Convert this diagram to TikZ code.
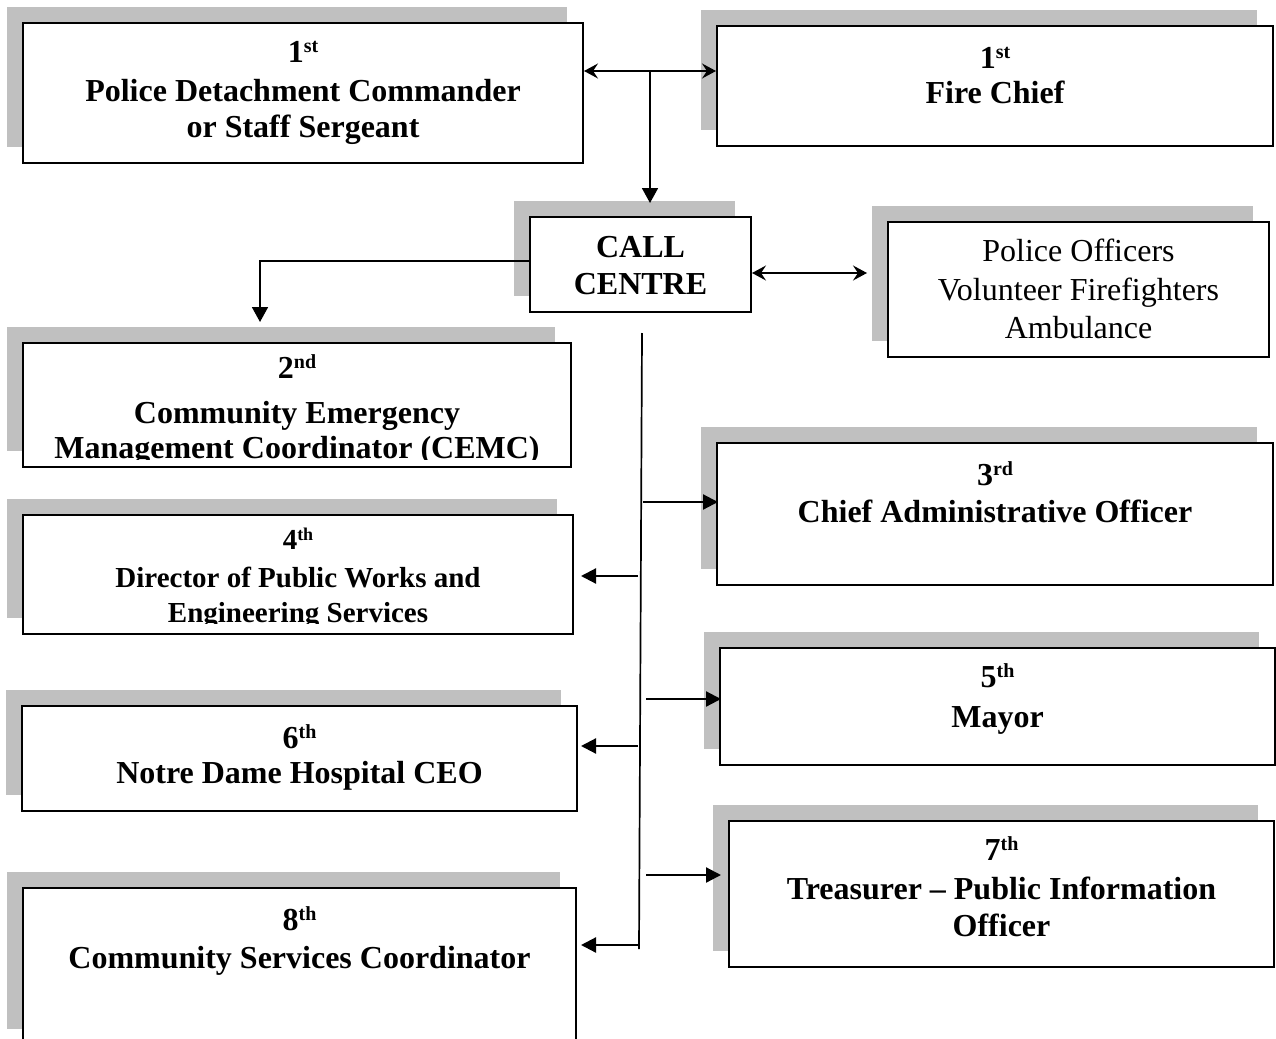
\documentclass[tikz,border=0pt]{standalone}
\usepackage{fontspec}
\setmainfont{Liberation Serif}
\usetikzlibrary{arrows.meta,shadows,calc}
\definecolor{shgray}{HTML}{C0C0C0}
\newcommand\ordsup[1]{\raisebox{10pt}{\fontsize{20}{20}\selectfont #1}}
\newcommand\ordsupS[1]{\raisebox{9pt}{\fontsize{18}{18}\selectfont #1}}
\newcommand\bigbf{\fontsize{32}{37}\selectfont\bfseries}
\newcommand\midbf{\fontsize{29}{33}\selectfont\bfseries}
\newcommand\bigrm{\fontsize{32}{37}\selectfont}
\begin{document}
\begin{tikzpicture}[x=1pt,y=-1pt,
  box/.style={draw, line width=1.8pt, fill=white, inner sep=0pt, outer sep=0pt,
    drop shadow={shadow xshift=-16pt, shadow yshift=16pt, fill=shgray, opacity=1}},
  openbox/.style={box, draw=none},
  lbl/.style={anchor=base, inner sep=0pt, font=\bigbf},
  lblm/.style={anchor=base, inner sep=0pt, font=\midbf},
  lblr/.style={anchor=base, inner sep=0pt, font=\bigrm},
  tri/.style={line width=2.2pt, -{Triangle[length=15pt,width=15pt]}},
  downtri/.style={line width=1.8pt, -{Triangle[length=15pt,width=16pt]}},
  dbl/.style={line width=1.8pt, {Stealth[length=14pt,width=15pt,inset=5pt]}-{Stealth[length=14pt,width=15pt,inset=5pt]}},
  bus/.style={line width=1.7pt},
  edge8/.style={line width=1.8pt}]
\useasboundingbox (0,0) rectangle (1276,1038);

% boxes
\node[box, minimum width=560pt, minimum height=140pt] (b1) at (303,93) {};
\node[box, minimum width=556pt, minimum height=120pt] (bF) at (995,86) {};
\node[box, minimum width=221pt, minimum height=95pt] (cc) at (640.5,264.5) {};
\node[box, minimum width=381pt, minimum height=135pt] (po) at (1078.5,289.5) {};
\node[box, minimum width=548pt, minimum height=124pt] (b2) at (297,405) {};
\node[box, minimum width=556pt, minimum height=142pt] (b3) at (995,514) {};
\node[box, minimum width=550pt, minimum height=119pt] (b4) at (298,574.5) {};
\node[box, minimum width=555pt, minimum height=117pt] (b5) at (997.5,706.5) {};
\node[box, minimum width=555pt, minimum height=105pt] (b6) at (299.5,758.5) {};
\node[box, minimum width=545pt, minimum height=146pt] (b7) at (1001.5,894) {};
\node[openbox, minimum width=553pt, minimum height=157pt] (b8) at (299.5,966.5) {};
\draw[edge8] (b8.south west) -- (b8.north west) -- (b8.north east) -- (b8.south east);

% texts
\node[lbl] (t1a) at (303,63) {1\ordsup{st}};
\node[lbl] (t1b) at (303,102) {Police Detachment Commander};
\node[lbl] (t1c) at (303,138) {or Staff Sergeant};

\node[lbl] (tFa) at (995,69) {1\ordsup{st}};
\node[lbl] (tFb) at (995,103) {Fire Chief};

\node[lbl] (tca) at (640.5,257) {CALL};
\node[lbl] (tcb) at (640.5,294) {CENTRE};

\node[lblr] (tpa) at (1078.5,261) {Police Officers};
\node[lblr] (tpb) at (1078.5,300) {Volunteer Firefighters};
\node[lblr] (tpc) at (1078.5,338) {Ambulance};

\begin{scope}
\clip (23,343) rectangle (571,459);
\node[lbl] (t2a) at (297,378) {2\ordsup{nd}};
\node[lbl] (t2b) at (297,423) {Community Emergency};
\node[lbl] (t2c) at (297,458) {Management Coordinator (CEMC)};
\end{scope}

\begin{scope}
\clip (23,515) rectangle (573,623);
\node[lblm] (t4a) at (298,549) {4\ordsupS{th}};
\node[lblm] (t4b) at (298,587) {Director of Public Works and};
\node[lblm] (t4c) at (298,622) {Engineering Services};
\end{scope}

\node[lbl] (t3a) at (995,485) {3\ordsup{rd}};
\node[lbl] (t3b) at (995,522) {Chief Administrative Officer};

\node[lbl] (t5a) at (997.5,687) {5\ordsup{th}};
\node[lbl] (t5b) at (997.5,727) {Mayor};

\node[lbl] (t6a) at (299.5,748) {6\ordsup{th}};
\node[lbl] (t6b) at (299.5,783) {Notre Dame Hospital CEO};

\node[lbl] (t7a) at (1001.5,860) {7\ordsup{th}};
\node[lbl] (t7b) at (1001.5,899) {Treasurer – Public Information};
\node[lbl] (t7c) at (1001.5,936) {Officer};

\node[lbl] (t8a) at (299.5,930) {8\ordsup{th}};
\node[lbl] (t8b) at (299.5,968) {Community Services Coordinator};

% connectors
\coordinate (j1) at (650,71);
\draw[dbl] ($(b1.east)+(1,-22)$) -- ($(bF.west)+(-1,-15)$);
\draw[downtri] (j1) -- ($(cc.north -| j1)+(0,-14)$);
\draw[downtri] ($(cc.west)+(0,-3.5)$) -| ($(b2.north)+(-37,-21)$);
\draw[dbl] ($(cc.east)+(1,8.5)$) -- ($(po.west)+(-21,-16.5)$);

\coordinate (busT) at (642,333);
\coordinate (busB) at (639,949);
\draw[bus] (busT) -- (busB);

\draw[tri] ($(b3.west)+(-74,-12)$) -- ($(b3.west)+(1,-12)$);
\draw[tri] ($(b5.west)+(-74,-7.5)$) -- ($(b5.west)+(1,-7.5)$);
\draw[tri] ($(b7.west)+(-83,-19)$) -- ($(b7.west)+(-8,-19)$);
\draw[tri] ($(b4.east)+(65,1.5)$) -- ($(b4.east)+(8,1.5)$);
\draw[tri] ($(b6.east)+(61,-12.5)$) -- ($(b6.east)+(4,-12.5)$);
\draw[tri] ($(b8.east)+(62,-21.5)$) -- ($(b8.east)+(5,-21.5)$);
\end{tikzpicture}
\end{document}
